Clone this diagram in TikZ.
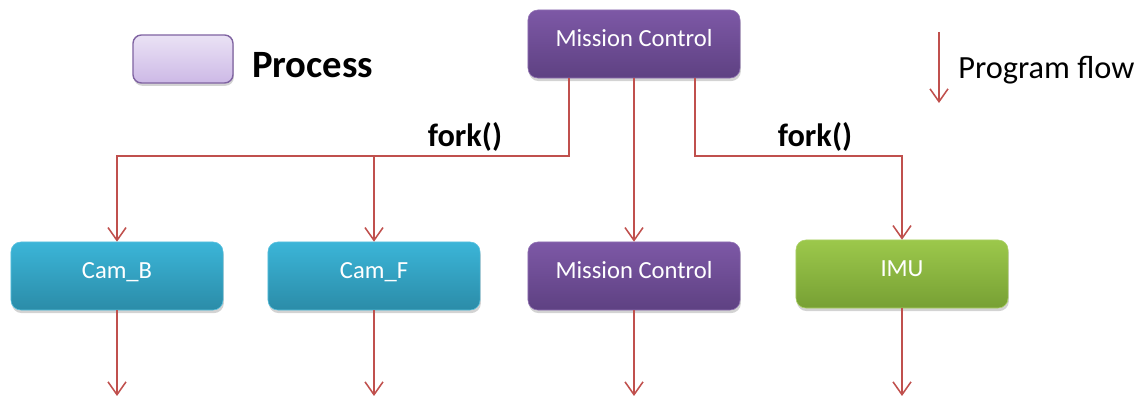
\documentclass[tikz,border=0pt]{standalone}
\usepackage{fontspec}
\setmainfont{Carlito}
\usepackage{xcolor}
\usepackage{tikz}
\usetikzlibrary{positioning,arrows.meta,shadows}

\definecolor{flowred}{HTML}{C0504D}
\definecolor{mctop}{HTML}{7D58A6}
\definecolor{mcbottom}{HTML}{5E4182}
\definecolor{camtop}{HTML}{3BB5D8}
\definecolor{cambottom}{HTML}{2B8CA8}
\definecolor{imutop}{HTML}{9CC84B}
\definecolor{imubottom}{HTML}{77A034}
\definecolor{legtop}{HTML}{EAE2F5}
\definecolor{legbottom}{HTML}{CDB9E6}
\definecolor{legborder}{HTML}{8064A2}

\begin{document}
\begin{tikzpicture}[
      x=0.025cm, y=-0.025cm,
      flow/.style={-{Straight Barb[length=0.32cm, width=0.45cm]}, draw=flowred, line width=1.1pt},
      procbox/.style={rectangle, rounded corners=7pt, minimum width=5.3cm, minimum height=1.7cm,
                      inner sep=0pt, text=white, font=\fontsize{17.5}{20}\selectfont,
                      text height=12pt, text depth=9pt,
                      drop shadow={shadow xshift=0.6pt, shadow yshift=-2.2pt, opacity=0.35}},
      mcbox/.style={procbox, top color=mctop, bottom color=mcbottom, draw=mctop!85!white},
      cambox/.style={procbox, top color=camtop, bottom color=cambottom, draw=camtop!85!white},
      imubox/.style={procbox, top color=imutop, bottom color=imubottom, draw=imutop!85!white},
      legendbox/.style={rectangle, rounded corners=6pt, minimum width=2.5cm, minimum height=1.2cm,
                        top color=legtop, bottom color=legbottom, draw=legborder, line width=1pt,
                        drop shadow={shadow xshift=0.6pt, shadow yshift=-2pt, opacity=0.35}},
      forklabel/.style={font=\fontsize{23}{26}\selectfont\bfseries},
      note/.style={font=\fontsize{23}{26}\selectfont, inner sep=0pt, anchor=west},
    ]
    \useasboundingbox (0,0) rectangle (1148,398);

    % Legend
    \node[legendbox] (legend) at (183,59) {};
    \node[font=\fontsize{27.5}{30}\selectfont\bfseries, inner sep=0pt, right=0.45cm of legend, yshift=-4pt] (legendtext) {Process};
    \coordinate (flowtop) at (939,32);
    \coordinate (flowbot) at (939,103);
    \draw[flow] (flowtop) -- (flowbot);
    \node[note] (flownote) at (958,70) {Program flow};

    % Parent process
    \node[mcbox] (mcparent) at (634,44) {Mission Control};

    % Child processes
    \node[cambox] (camb) at (117,276) {Cam\_B};
    \node[cambox] (camf) at (374,276) {Cam\_F};
    \node[mcbox]  (mcchild) at (634,276) {Mission Control};
    \node[imubox] (imu) at (902,274) {IMU};

    % Forks
    \coordinate (forkL) at (569,156);
    \coordinate (forkR) at (695,156);
    \draw[flow] (mcparent.south -| forkL) -- (forkL) -| (camb);
    \draw[flow] (forkL -| camf) -- (camf);
    \draw[flow] (mcparent.south -| forkR) -- (forkR) -| (imu);
    \draw[flow] (mcparent) -- (mcchild);
    \node[forklabel] (forkLtext) at (465,137) {fork()};
    \node[forklabel] (forkRtext) at (815,137) {fork()};

    % Continuing flow
    \coordinate (bottomline) at (0,396);
    \foreach \p in {camb,camf,mcchild,imu} {
      \coordinate (\p end) at (\p.south |- bottomline);
      \draw[flow] (\p) -- (\p end);
    }
  \end{tikzpicture}
\end{document}
